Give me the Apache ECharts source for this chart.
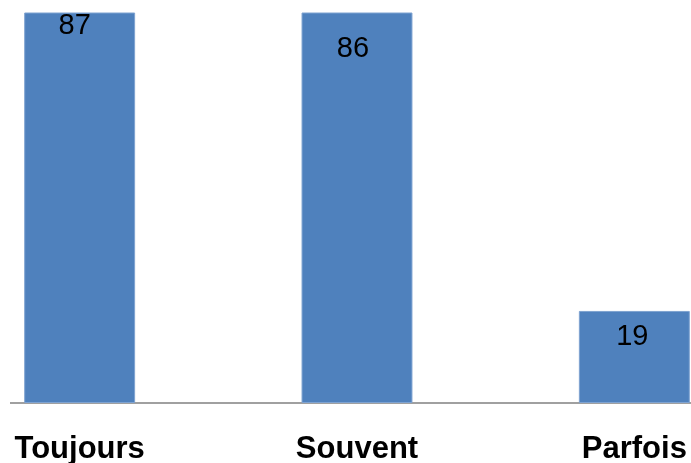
<!DOCTYPE html>
<html>
<head>
<meta charset="utf-8">
<script src="https://cdn.jsdelivr.net/npm/echarts@6/dist/echarts.min.js"></script>
<style>
  html, body { margin: 0; padding: 0; background: #fff; }
  #chart { width: 691px; height: 463px; }
</style>
</head>
<body>
<div id="chart"></div>
<script>
let categories = ['Toujours', 'Souvent', 'Parfois'];
let values = [87, 86, 19];

let myChart = echarts.init(document.getElementById('chart'));

// the original picture is cropped, so the grid runs past the edges
let option = {
  animation: false,
  grid: { left: -59, right: -82, top: 13, bottom: 60, outerBoundsMode: 'none', containLabel: false },
  xAxis: {
    type: 'category',
    data: categories,
    axisLine: { show: false },
    axisTick: { show: false },
    axisLabel: {
      color: '#000',
      fontFamily: 'Liberation Sans, Arial',
      fontWeight: 'bold',
      fontSize: 31,
      margin: 31
    }
  },
  yAxis: {
    type: 'value',
    min: 0,
    max: 80.5,
    show: false,
    splitLine: { show: false }
  },
  series: [
    {
      type: 'bar',
      barWidth: '40%',
      clip: true,
      data: values.map(function (v, i) {
        let offs = [[-5, -13], [-4, 10], [-2, 0]];
        return { value: v, label: { offset: offs[i] } };
      }),
      itemStyle: { color: '#4f81bd', borderColor: '#7fa3d1', borderWidth: 1 },
      label: {
        show: true,
        position: 'insideTop',
        distance: 12,
        color: '#000',
        fontFamily: 'Liberation Sans, Arial',
        fontSize: 29
      }
    }
  ],
  graphic: [
    {
      type: 'line',
      shape: { x1: 10, y1: 403, x2: 691, y2: 403 },
      style: { stroke: '#a0a0a0', lineWidth: 2 }
    }
  ]
};
myChart.setOption(option);
</script>
</body>
</html>
